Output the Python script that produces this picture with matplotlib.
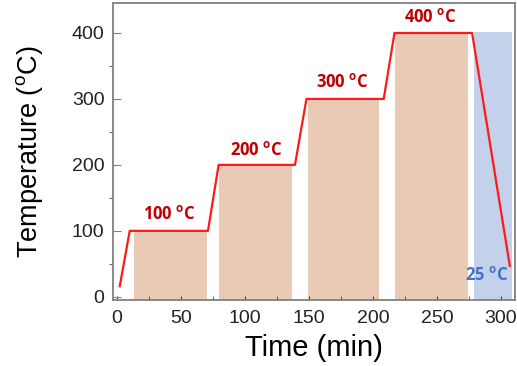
import matplotlib.pyplot as plt
from matplotlib.ticker import MultipleLocator

# temperature profile (min, degC)
time = [2, 9.8, 71, 79.3, 139, 148, 208.4, 216.8, 277.5, 307]
temp = [16, 100, 100, 200, 200, 300, 300, 400, 400, 47]

# shaded hold regions: start, end, top
hold_start = [13.4, 80, 149, 217]
hold_end = [70, 136.6, 205, 274]
hold_top = [100, 200, 300, 400]
cool_start, cool_end, cool_top = 278.7, 309, 402

labels = ['100 $^{\\mathregular{o}}$C', '200 $^{\\mathregular{o}}$C',
          '300 $^{\\mathregular{o}}$C', '400 $^{\\mathregular{o}}$C']
label_x = [41, 109, 176, 245]
label_y = [125, 223, 326, 424]

fig = plt.figure(figsize=(5.17, 3.66), dpi=100)
ax = fig.add_axes([0.218, 0.18, 0.778, 0.811])

ymin = -5
for s, e, t in zip(hold_start, hold_end, hold_top):
    ax.fill_between([s, e], ymin, t, color='#E9CBB5', lw=0, zorder=1)
ax.fill_between([cool_start, cool_end], ymin, cool_top, color='#C4D1EA', lw=0, zorder=1)

ax.plot(time, temp, color='#FF1A1A', lw=1.6, zorder=3)

for lab, x, y in zip(labels, label_x, label_y):
    ax.text(x, y, lab, color='#C00000', fontsize=12, fontweight='bold',
            family='Open Sans', ha='center', va='center', zorder=4)
ax.text(289, 33, '25 $^{\\mathregular{o}}$C', color='#4472C4', fontsize=12,
        fontweight='bold', family='Open Sans', ha='center', va='center', zorder=4)

ax.set_xlim(-3.5, 311)
ax.set_ylim(ymin, 445)
ax.xaxis.set_major_locator(MultipleLocator(50))
ax.xaxis.set_minor_locator(MultipleLocator(25))
ax.yaxis.set_major_locator(MultipleLocator(100))
ax.yaxis.set_minor_locator(MultipleLocator(50))
ax.tick_params(axis='x', which='both', direction='in', length=3, color='#444444',
               labelsize=14, pad=7)
ax.tick_params(axis='y', which='major', direction='in', length=6, color='#808080',
               labelsize=14, pad=6)
ax.tick_params(axis='y', which='minor', direction='out', length=3, color='#444444')
for sp in ax.spines.values():
    sp.set_color('#808080')
    sp.set_linewidth(1.3)

ax.set_xlabel('Time (min)', fontsize=21, family='Liberation Sans', labelpad=5)
ax.set_ylabel('Temperature ($^{\\mathregular{o}}$C)', fontsize=19.5,
              family='Liberation Sans', labelpad=19)
for lab in ax.get_xticklabels() + ax.get_yticklabels():
    lab.set_family('Liberation Sans')
    lab.set_color('#222222')

fig.savefig('out.png', dpi=100)
